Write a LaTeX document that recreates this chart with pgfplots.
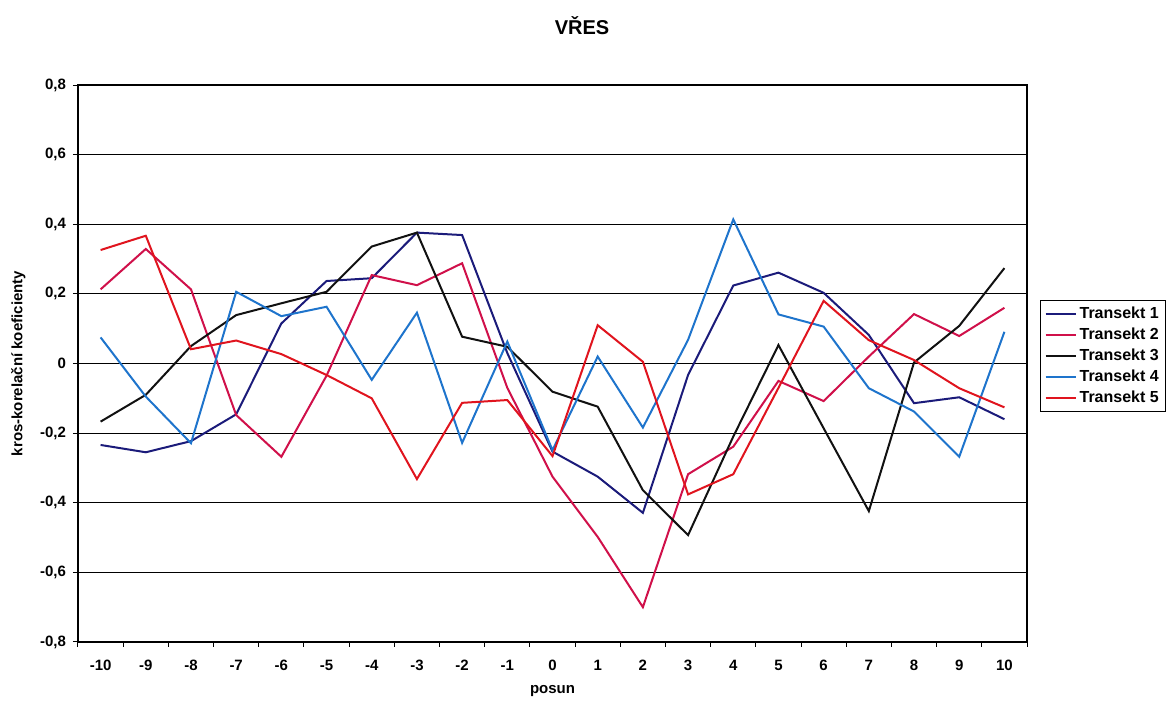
\documentclass[border=0pt]{standalone}
\usepackage{fontspec}
\setmainfont{Liberation Sans}
\usepackage{pgfplots}
\pgfplotsset{compat=1.18}
\definecolor{tone}{HTML}{1B1B7A}
\definecolor{ttwo}{HTML}{D0104A}
\definecolor{tthree}{HTML}{111111}
\definecolor{tfour}{HTML}{1E74CC}
\definecolor{tfive}{HTML}{E0141E}
\begin{document}
\begin{tikzpicture}[x=1pt,y=1pt]
\begin{axis}[
  at={(0pt,0pt)}, anchor=south west,
  width=474.5pt, height=278.5pt, scale only axis,
  xmin=-10.5, xmax=10.5, ymin=-0.8, ymax=0.8,
  xtick={-10.5,-9.5,...,10.5},
  xticklabels={-10,-9,-8,-7,-6,-5,-4,-3,-2,-1,0,1,2,3,4,5,6,7,8,9,10,{}},
  xticklabel style={xshift=11.3pt, yshift=-3pt},
  ytick={-0.8,-0.6,-0.4,-0.2,0,0.2,0.4,0.6,0.8},
  xtick pos=bottom, ytick pos=left,
  /pgf/number format/assume math mode=true,
  yticklabel style={/pgf/number format/use comma,/pgf/number format/fixed,/pgf/number format/precision=1},
  tick label style={font=\bfseries\fontsize{7.5}{9}\selectfont},
  tick align=outside, major tick length=2.5pt,
  tick style={black, line width=0.5pt},
  ymajorgrids, grid style={black, line width=0.5pt},
  axis line style={black, line width=0.6pt},
  ylabel={kros-korelační koeficienty},
  xlabel={posun},
  every axis y label/.style={at={(axis description cs:-0.063,0.5)}, rotate=90, anchor=center, font=\bfseries\fontsize{7.5}{9}\selectfont},
  every axis x label/.style={at={(axis description cs:0.5,-0.088)}, anchor=center, font=\bfseries\fontsize{7.5}{9}\selectfont},
  legend style={at={(1.0137,0.614)}, anchor=north west, draw=black, line width=0.6pt,
    font=\bfseries\fontsize{8}{9.5}\selectfont, row sep=1.2pt, inner xsep=2pt, inner ysep=2pt,
    nodes={inner ysep=1pt, inner xsep=1.5pt}},
  legend cell align=left,
  legend image code/.code={\draw[#1] (0pt,0pt) -- (15pt,0pt);},
  every axis plot/.append style={line width=1pt},
]
\addplot[tone] coordinates {(-10,-0.234) (-9,-0.255) (-8,-0.223) (-7,-0.146) (-6,0.115) (-5,0.237) (-4,0.245) (-3,0.376) (-2,0.369) (-1,0.03) (0,-0.253) (1,-0.325) (2,-0.429) (3,-0.033) (4,0.224) (5,0.261) (6,0.203) (7,0.082) (8,-0.114) (9,-0.097) (10,-0.16)};
\addlegendentry{Transekt 1}
\addplot[ttwo] coordinates {(-10,0.213) (-9,0.329) (-8,0.213) (-7,-0.148) (-6,-0.268) (-5,-0.035) (-4,0.254) (-3,0.225) (-2,0.288) (-1,-0.07) (0,-0.325) (1,-0.498) (2,-0.70) (3,-0.318) (4,-0.239) (5,-0.05) (6,-0.108) (7,0.02) (8,0.142) (9,0.079) (10,0.16)};
\addlegendentry{Transekt 2}
\addplot[tthree] coordinates {(-10,-0.167) (-9,-0.09) (-8,0.05) (-7,0.139) (-6,0.173) (-5,0.206) (-4,0.336) (-3,0.376) (-2,0.077) (-1,0.048) (0,-0.081) (1,-0.124) (2,-0.364) (3,-0.493) (4,-0.21) (5,0.053) (6,-0.186) (7,-0.424) (8,0.003) (9,0.108) (10,0.274)};
\addlegendentry{Transekt 3}
\addplot[tfour] coordinates {(-10,0.075) (-9,-0.095) (-8,-0.229) (-7,0.206) (-6,0.136) (-5,0.163) (-4,-0.047) (-3,0.146) (-2,-0.228) (-1,0.063) (0,-0.249) (1,0.02) (2,-0.184) (3,0.068) (4,0.414) (5,0.141) (6,0.106) (7,-0.071) (8,-0.138) (9,-0.268) (10,0.091)};
\addlegendentry{Transekt 4}
\addplot[tfive] coordinates {(-10,0.326) (-9,0.367) (-8,0.041) (-7,0.066) (-6,0.027) (-5,-0.033) (-4,-0.10) (-3,-0.332) (-2,-0.113) (-1,-0.105) (0,-0.266) (1,0.11) (2,0.005) (3,-0.376) (4,-0.318) (5,-0.07) (6,0.18) (7,0.067) (8,0.01) (9,-0.071) (10,-0.126)};
\addlegendentry{Transekt 5}
\end{axis}
\node[font=\bfseries\fontsize{10}{12}\selectfont] at (252pt,308pt) {VŘES};
\pgfresetboundingbox
\useasboundingbox (-39pt,-29.5pt) rectangle (544.5pt,321pt);
\end{tikzpicture}
\end{document}
